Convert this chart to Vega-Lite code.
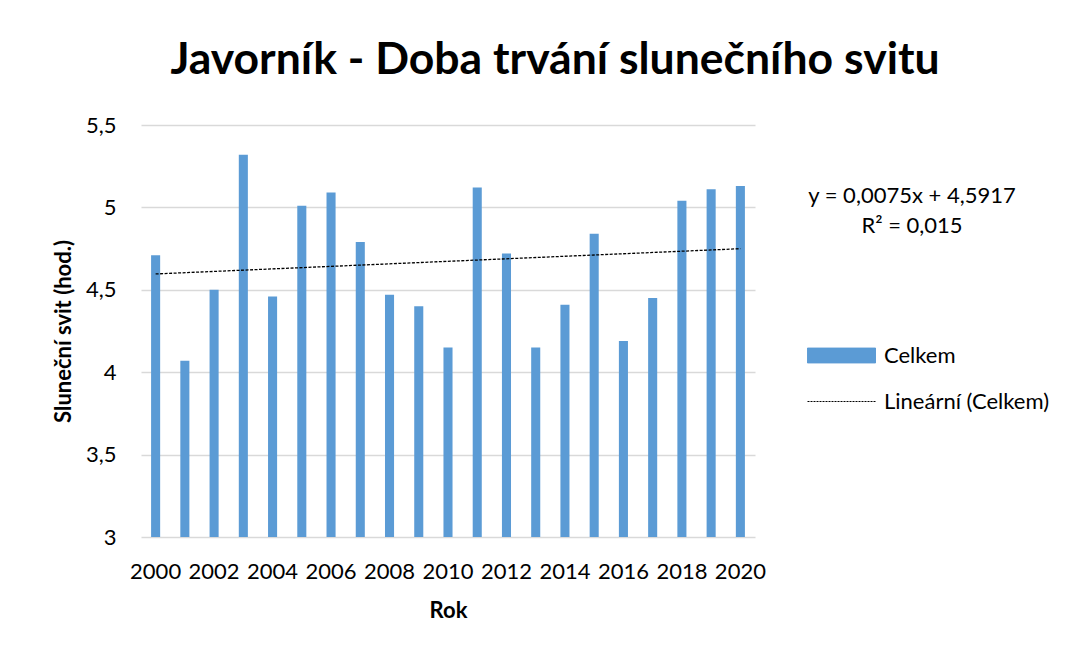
{
  "$schema": "https://vega.github.io/schema/vega-lite/v6.json",
  "autosize": {"type": "none"},
  "width": 614,
  "height": 412,
  "padding": {"left": 141, "top": 125, "right": 332, "bottom": 117},
  "background": "white",
  "config": {
    "font": "Lato",
    "view": {"stroke": null}
  },
  "title": {
    "text": "Javorník - Doba trvání slunečního svitu",
    "font": "Lato",
    "fontSize": 44.5,
    "fontWeight": "bold",
    "color": "#000000",
    "anchor": "middle",
    "baseline": "alphabetic",
    "dx": 107,
    "offset": -4
  },
  "data": {
    "values": [
      {"year": 2000, "value": 4.71},
      {"year": 2001, "value": 4.07},
      {"year": 2002, "value": 4.50},
      {"year": 2003, "value": 5.32},
      {"year": 2004, "value": 4.46},
      {"year": 2005, "value": 5.01},
      {"year": 2006, "value": 5.09},
      {"year": 2007, "value": 4.79},
      {"year": 2008, "value": 4.47},
      {"year": 2009, "value": 4.40},
      {"year": 2010, "value": 4.15},
      {"year": 2011, "value": 5.12},
      {"year": 2012, "value": 4.72},
      {"year": 2013, "value": 4.15},
      {"year": 2014, "value": 4.41},
      {"year": 2015, "value": 4.84},
      {"year": 2016, "value": 4.19},
      {"year": 2017, "value": 4.45},
      {"year": 2018, "value": 5.04},
      {"year": 2019, "value": 5.11},
      {"year": 2020, "value": 5.13}
    ]
  },
  "encoding": {
    "x": {
      "field": "year",
      "type": "ordinal",
      "scale": {"paddingInner": 0.69, "paddingOuter": 0.345},
      "axis": {
        "title": "Rok",
        "values": [2000, 2002, 2004, 2006, 2008, 2010, 2012, 2014, 2016, 2018, 2020],
        "labelAngle": 0,
        "labelFontSize": 22,
        "labelColor": "#000000",
        "labelPadding": 24,
        "ticks": false,
        "tickSize": 0,
        "domain": false,
        "grid": false,
        "titleFontSize": 22,
        "titleFontWeight": "bold",
        "titleColor": "#000000",
        "titlePadding": 18
      }
    },
    "y": {
      "field": "value",
      "type": "quantitative",
      "scale": {"domain": [3, 5.5], "zero": false, "nice": false},
      "axis": {
        "title": "Sluneční svit (hod.)",
        "values": [3, 3.5, 4, 4.5, 5, 5.5],
        "format": ".1~f",
        "labelExpr": "replace(datum.label, '.', ',')",
        "labelFontSize": 22,
        "labelColor": "#000000",
        "labelPadding": 25,
        "ticks": false,
        "tickSize": 0,
        "domain": false,
        "grid": true,
        "gridColor": "#D9D9D9",
        "gridWidth": 1.3,
        "titleFontSize": 22,
        "titleFontWeight": "bold",
        "titleColor": "#000000",
        "titlePadding": 10
      }
    }
  },
  "layer": [
    {
      "mark": {"type": "bar", "fill": "#5B9BD5", "clip": true},
      "encoding": {
        "color": {
          "datum": "Celkem",
          "scale": {"domain": ["Celkem", "Lineární (Celkem)"], "range": ["#5B9BD5", "#000000"]},
          "legend": {
            "title": ["y = 0,0075x + 4,5917", "R² = 0,015"],
            "orient": "none",
            "legendX": 666,
            "legendY": 61,
            "padding": 0,
            "titleFont": "Lato",
            "titleFontSize": 22,
            "titleFontWeight": "normal",
            "titleColor": "#000000",
            "titleLineHeight": 30,
            "titleAnchor": "middle",
            "titleAlign": "center",
            "titleLimit": 500,
            "titlePadding": 83,
            "labelFont": "Lato",
            "labelFontSize": 22,
            "labelColor": "#000000",
            "labelOffset": 8,
            "labelLimit": 400,
            "symbolSize": 4624,
            "rowPadding": -3,
            "encode": {
              "title": {"update": {"dx": {"value": -16}}},
              "symbols": {
                "update": {
                  "shape": {"signal": "datum.label === 'Celkem' ? 'M-1,-0.22H1V0.22H-1Z' : 'M-1,0H1'"},
                  "fill": {"signal": "datum.label === 'Celkem' ? '#5B9BD5' : 'transparent'"},
                  "stroke": {"signal": "datum.label === 'Celkem' ? '#5B9BD5' : '#000000'"},
                  "strokeDash": {"signal": "datum.label === 'Celkem' ? [1, 0] : [2, 1]"},
                  "strokeWidth": {"value": 1},
                  "opacity": {"value": 1}
                }
              }
            }
          }
        }
      }
    },
    {
      "transform": [{"regression": "value", "on": "year"}],
      "mark": {"type": "line", "strokeDash": [3, 1.5], "strokeWidth": 1.3},
      "encoding": {
        "color": {"datum": "Lineární (Celkem)"}
      }
    }
  ]
}
